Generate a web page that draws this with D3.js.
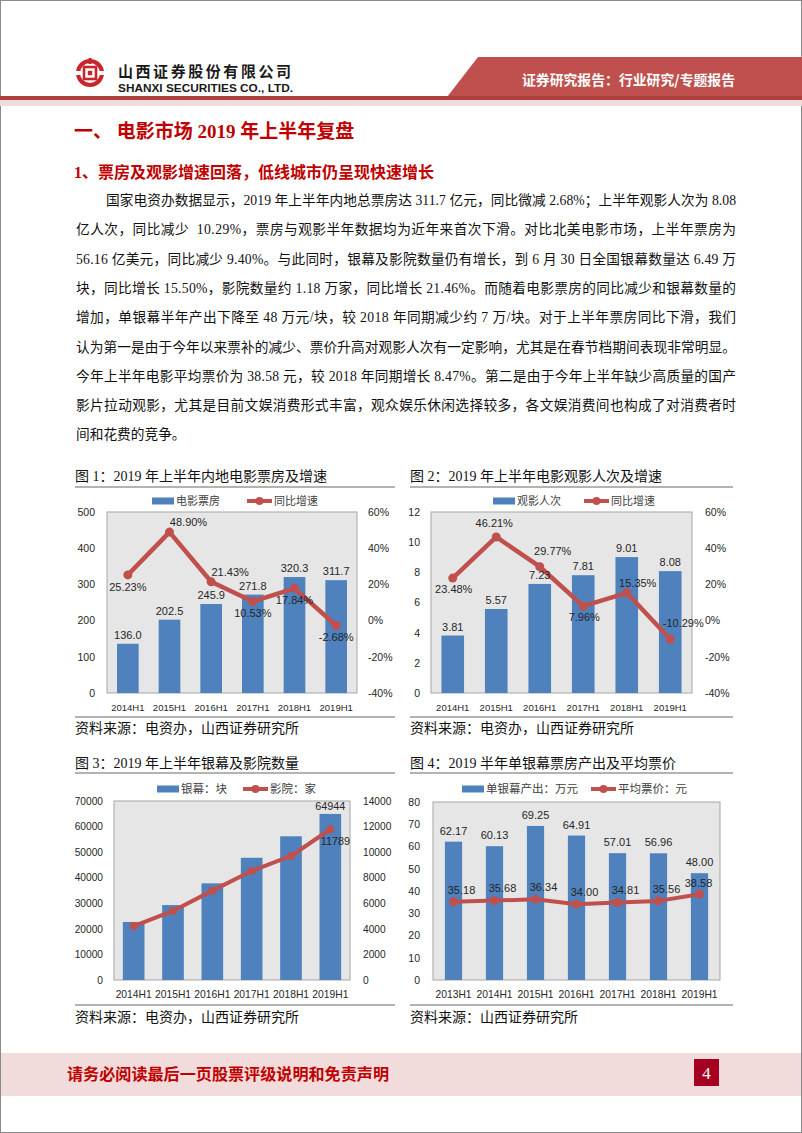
<!DOCTYPE html>
<html><head><meta charset="utf-8">
<script src="https://cdn.jsdelivr.net/npm/d3@7"></script>
<style>
html,body{margin:0;padding:0;background:#fff;}
svg{display:block;}
</style></head><body>
<svg id="page" width="802" height="1133"></svg>
<script>
// ---------------- DATA ----------------
const c1Categories = ["2014H1","2015H1","2016H1","2017H1","2018H1","2019H1"];
const c1BoxOffice = [136.0, 202.5, 245.9, 271.8, 320.3, 311.7];
const c1Growth = [25.23, 48.90, 21.43, 10.53, 17.84, -2.68];
const c1LeftTicks = [0, 100, 200, 300, 400, 500];
const c1RightTicks = [-40, -20, 0, 20, 40, 60];
const c1GrowthLabelPlace = ["below","upRight","upRight","below","below","below"];

const c2Categories = ["2014H1","2015H1","2016H1","2017H1","2018H1","2019H1"];
const c2Admissions = [3.81, 5.57, 7.23, 7.81, 9.01, 8.08];
const c2Growth = [23.48, 46.21, 29.77, 7.96, 15.35, -10.29];
const c2LeftTicks = [0, 2, 4, 6, 8, 10, 12];
const c2RightTicks = [-40, -20, 0, 20, 40, 60];
const c2GrowthLabelPlace = ["below","above","upRightHigh","below","upRight","upRightHigh"];

const c3Categories = ["2014H1","2015H1","2016H1","2017H1","2018H1","2019H1"];
const c3Screens = [22700, 29300, 37800, 47800, 56200, 64944];
const c3Cinemas = [4220, 5400, 6990, 8530, 9700, 11789];
const c3LeftTicks = [0, 10000, 20000, 30000, 40000, 50000, 60000, 70000];
const c3RightTicks = [0, 2000, 4000, 6000, 8000, 10000, 12000, 14000];
const c3ScreenLabelShow = [false, false, false, false, false, true];
const c3CinemaLabelPlace = [null, null, null, null, null, "belowRight"];

const c4Categories = ["2013H1","2014H1","2015H1","2016H1","2017H1","2018H1","2019H1"];
const c4Output = [62.17, 60.13, 69.25, 64.91, 57.01, 56.96, 48.00];
const c4Price = [35.18, 35.68, 36.34, 34.00, 34.81, 35.56, 38.58];
const c4Ticks = [0, 10, 20, 30, 40, 50, 60, 70, 80];
const c4PriceLabelPlace = ["upRight","upRight","upRight","upRight","upRight","upRight","above"];

const bodyLines = [
  "国家电资办数据显示，2019 年上半年内地总票房达 311.7 亿元，同比微减 2.68%；上半年观影人次为 8.08",
  "亿人次，同比减少  10.29%，票房与观影半年数据均为近年来首次下滑。对比北美电影市场，上半年票房为",
  "56.16 亿美元，同比减少 9.40%。与此同时，银幕及影院数量仍有增长，到 6 月 30 日全国银幕数量达 6.49 万",
  "块，同比增长 15.50%，影院数量约 1.18 万家，同比增长 21.46%。而随着电影票房的同比减少和银幕数量的",
  "增加，单银幕半年产出下降至 48 万元/块，较 2018 年同期减少约 7 万/块。对于上半年票房同比下滑，我们",
  "认为第一是由于今年以来票补的减少、票价升高对观影人次有一定影响，尤其是在春节档期间表现非常明显。",
  "今年上半年电影平均票价为 38.58 元，较 2018 年同期增长 8.47%。第二是由于今年上半年缺少高质量的国产",
  "影片拉动观影，尤其是目前文娱消费形式丰富，观众娱乐休闲选择较多，各文娱消费间也构成了对消费者时",
  "间和花费的竞争。"
];

// ---------------- STYLE ----------------
const SANS = "'Liberation Sans', Arial, 'Noto Sans CJK SC', sans-serif";
const SERIF = "'Liberation Serif', 'Times New Roman', 'Noto Sans CJK SC', serif";
const CJK = "'Noto Sans CJK SC', sans-serif";
const RED = "#C00000";
const BAR = "#4F81BD";
const LINE = "#C0504D";

const svg = d3.select("#page");

// page border
svg.append("rect").attr("x",0.5).attr("y",0.5).attr("width",801).attr("height",1132)
  .attr("fill","none").attr("stroke","#8a8a8a").attr("stroke-width",1);

// ---------------- HEADER ----------------
const hdr = svg.append("g");
const logo = hdr.append("g").attr("transform","translate(90,73)");
logo.append("circle").attr("r",12).attr("fill","none").attr("stroke","#C8262C").attr("stroke-width",4);
logo.append("rect").attr("x",-14).attr("y",-2).attr("width",28).attr("height",4).attr("fill","#fff");
logo.append("rect").attr("x",-6).attr("y",-6).attr("width",12).attr("height",12).attr("fill","none").attr("stroke","#C8262C").attr("stroke-width",2.6);
logo.append("rect").attr("x",-2.2).attr("y",-2.2).attr("width",4.4).attr("height",4.4).attr("fill","#C8262C");
logo.append("rect").attr("x",-1.5).attr("y",-15).attr("width",3).attr("height",6).attr("fill","#C8262C");
hdr.append("text").attr("x",118).attr("y",77).attr("textLength",173).attr("lengthAdjust","spacing")
  .style("font-family",CJK).style("font-weight",700).style("font-size","15px").attr("fill","#1a1a1a")
  .text("山西证券股份有限公司");
hdr.append("text").attr("x",118).attr("y",92).attr("textLength",175).attr("lengthAdjust","spacingAndGlyphs")
  .style("font-family",SANS).style("font-weight",700).style("font-size","11.5px").attr("fill","#1a1a1a")
  .text("SHANXI SECURITIES CO., LTD.");
hdr.append("polygon").attr("points","478,57 802,57 802,97 447,97").attr("fill","#C0504D");
hdr.append("rect").attr("x",0).attr("y",96).attr("width",802).attr("height",4).attr("fill","#B0413E");
hdr.append("rect").attr("x",0).attr("y",100).attr("width",802).attr("height",6).attr("fill","#F2DCDB");
hdr.append("text").attr("x",522).attr("y",85).attr("textLength",213).attr("lengthAdjust","spacingAndGlyphs")
  .style("font-family",CJK).style("font-weight",700).style("font-size","14px").attr("fill","#fff")
  .text("证券研究报告：行业研究/专题报告");

// ---------------- HEADINGS & BODY ----------------
svg.append("text").attr("x",74).attr("y",138)
  .style("font-family",SERIF).style("font-weight",700).style("font-size","19px").attr("fill",RED)
  .text("一、 电影市场 2019 年上半年复盘");
svg.append("text").attr("x",74).attr("y",178)
  .style("font-family",SERIF).style("font-weight",700).style("font-size","16px").attr("fill",RED)
  .text("1、票房及观影增速回落，低线城市仍呈现快速增长");

bodyLines.forEach((t,i)=>{
  const tx = svg.append("text")
    .attr("x", i===0 ? 106 : 76)
    .attr("y", 205 + i*29.3)
    .style("font-family",SERIF).style("font-size","13.7px").style("white-space","pre").attr("fill","#111")
    .text(t);
  if (i < bodyLines.length-1) tx.attr("textLength", i===0 ? 630 : 660).attr("lengthAdjust","spacing");
});

// ---------------- CHART HELPERS ----------------
function chartFrame(o){
  svg.append("text").attr("x",o.x).attr("y",o.titleY)
    .style("font-family",SERIF).style("font-size","14px").attr("fill","#111").text(o.title);
  svg.append("line").attr("x1",o.x).attr("x2",o.x+o.w).attr("y1",o.lineY).attr("y2",o.lineY)
    .attr("stroke","#9a9a9a").attr("stroke-width",1.5);
  svg.append("line").attr("x1",o.x).attr("x2",o.x+o.w).attr("y1",o.srcLineY).attr("y2",o.srcLineY)
    .attr("stroke","#9a9a9a").attr("stroke-width",1.5);
  svg.append("text").attr("x",o.x).attr("y",o.srcY)
    .style("font-family",SERIF).style("font-size","14px").attr("fill","#111").text(o.source);
}

const fixed = n => d => (d < 0 ? "-" : "") + Math.abs(d).toFixed(n);
const pct = d => fixed(2)(d) + "%";

function comboChart(o){
  const g = svg.append("g");
  const x = d3.scaleBand().domain(o.categories).range([o.x0,o.x1]).paddingInner(o.pad).paddingOuter(o.pad/2);
  const y = d3.scaleLinear().domain(o.yDomain).range([o.y1,o.y0]);
  const y2 = o.y2Domain ? d3.scaleLinear().domain(o.y2Domain).range([o.y1,o.y0]) : y;
  const cx = i => x(o.categories[i]) + x.bandwidth()/2;
  const barData = o.bars.map((v,i)=>({v,i}));
  const lineData = o.line.map((v,i)=>({v,i}));

  g.append("rect").attr("x",o.x0).attr("y",o.y0).attr("width",o.x1-o.x0).attr("height",o.y1-o.y0)
    .attr("fill","#E6E6E6").attr("stroke","#A6A6A6").attr("stroke-width",1);

  const styleAxis = (ax, size) => {
    ax.select(".domain").remove();
    ax.selectAll("text").style("font-family",SANS).style("font-size",size).attr("fill","#262626");
  };
  const la = g.append("g").attr("transform",`translate(${o.x0},0)`)
    .call(d3.axisLeft(y).tickValues(o.leftTicks).tickSize(0).tickPadding(o.leftGap).tickFormat(d=>String(d)));
  styleAxis(la, o.tickFont);
  if (o.y2Domain){
    const ra = g.append("g").attr("transform",`translate(${o.x1},0)`)
      .call(d3.axisRight(y2).tickValues(o.rightTicks).tickSize(0).tickPadding(o.rightGap).tickFormat(o.rightFmt));
    styleAxis(ra, o.tickFont);
  }
  const xa = g.append("g").attr("transform",`translate(0,${o.y1})`)
    .call(d3.axisBottom(x).tickSize(0).tickPadding(o.xGap));
  styleAxis(xa, o.xFont);

  // bars
  g.selectAll("rect.bar").data(barData).join("rect").attr("class","bar")
    .attr("x",d=>x(o.categories[d.i])).attr("width",x.bandwidth())
    .attr("y",d=>y(d.v)).attr("height",d=>o.y1-y(d.v)).attr("fill",BAR);

  // line
  const line = d3.line().x(d=>cx(d.i)).y(d=>y2(d.v));
  g.append("path").datum(lineData).attr("d",line).attr("fill","none")
    .attr("stroke",LINE).attr("stroke-width",o.lineWidth).attr("stroke-linejoin","round");
  g.selectAll("circle.pt").data(lineData).join("circle").attr("class","pt")
    .attr("cx",d=>cx(d.i)).attr("cy",d=>y2(d.v)).attr("r",o.markerR).attr("fill",LINE);

  // bar labels
  g.selectAll("text.bl").data(barData.filter(d=>!o.barLabelShow || o.barLabelShow[d.i])).join("text").attr("class","bl")
    .attr("x",d=>cx(d.i)).attr("y",d=>y(d.v)-o.barLabelGap)
    .attr("text-anchor","middle")
    .style("font-family",SANS).style("font-size",o.labelFont).attr("fill","#262626")
    .text(d=>o.barFmt(d.v));

  // line labels
  g.selectAll("text.ll").data(lineData.filter(d=>o.linePlace[d.i])).join("text").attr("class","ll")
    .attr("x",d=>cx(d.i) + o.placeMap[o.linePlace[d.i]][0])
    .attr("y",d=>y2(d.v) + o.placeMap[o.linePlace[d.i]][1])
    .attr("dy","0.35em").attr("text-anchor","middle")
    .style("font-family",SANS).style("font-size",o.labelFont).attr("fill","#262626")
    .text(d=>o.lineFmt(d.v));

  // legend
  const lg = g.append("g");
  lg.append("rect").attr("x",o.legend.barX).attr("y",o.legend.y-3.5).attr("width",22).attr("height",7).attr("fill",BAR);
  lg.append("text").attr("x",o.legend.barX+24).attr("y",o.legend.y).attr("dy","0.36em")
    .style("font-family",CJK).style("font-size",o.legendFont).attr("fill","#404040").text(o.legend.barName);
  lg.append("line").attr("x1",o.legend.lineX).attr("x2",o.legend.lineX+25).attr("y1",o.legend.y).attr("y2",o.legend.y)
    .attr("stroke",LINE).attr("stroke-width",4);
  lg.append("circle").attr("cx",o.legend.lineX+12.5).attr("cy",o.legend.y).attr("r",4).attr("fill",LINE);
  lg.append("text").attr("x",o.legend.lineX+27).attr("y",o.legend.y).attr("dy","0.36em")
    .style("font-family",CJK).style("font-size",o.legendFont).attr("fill","#404040").text(o.legend.lineName);
}

// ---------------- CHART 1 ----------------
chartFrame({x:75, w:320, titleY:481, lineY:487, srcLineY:717, srcY:733,
  title:"图 1：2019 年上半年内地电影票房及增速", source:"资料来源：电资办，山西证券研究所"});
comboChart({
  categories:c1Categories, bars:c1BoxOffice, line:c1Growth,
  x0:107, x1:357, y0:512, y1:693, pad:0.48,
  yDomain:[0,500], y2Domain:[-40,60], leftTicks:c1LeftTicks, rightTicks:c1RightTicks,
  rightFmt:d=>d+"%", leftGap:12, rightGap:11, xGap:11, tickFont:"10.5px", xFont:"9.5px",
  lineWidth:4.5, markerR:4.5, barLabelGap:5, labelFont:"11px", legendFont:"11px",
  barFmt:fixed(1), lineFmt:pct, linePlace:c1GrowthLabelPlace,
  placeMap:{below:[0,12], above:[0,-13], upRight:[19,-10]},
  legend:{y:501, barX:152, barName:"电影票房", lineX:247, lineName:"同比增速"}
});

// ---------------- CHART 2 ----------------
chartFrame({x:410, w:323, titleY:481, lineY:487, srcLineY:717, srcY:733,
  title:"图 2：2019 年上半年电影观影人次及增速", source:"资料来源：电资办，山西证券研究所"});
comboChart({
  categories:c2Categories, bars:c2Admissions, line:c2Growth,
  x0:431, x1:692, y0:512, y1:693, pad:0.48,
  yDomain:[0,12], y2Domain:[-40,60], leftTicks:c2LeftTicks, rightTicks:c2RightTicks,
  rightFmt:d=>d+"%", leftGap:11, rightGap:13, xGap:11, tickFont:"10.5px", xFont:"9.5px",
  lineWidth:4.5, markerR:4.5, barLabelGap:5, labelFont:"11px", legendFont:"11px",
  barFmt:fixed(2), lineFmt:pct, linePlace:c2GrowthLabelPlace,
  placeMap:{below:[1,11], above:[-2,-14], upRight:[11,-10], upRightHigh:[13,-16]},
  legend:{y:501, barX:493, barName:"观影人次", lineX:584, lineName:"同比增速"}
});

// ---------------- CHART 3 ----------------
chartFrame({x:75, w:320, titleY:768, lineY:773, srcLineY:1005, srcY:1022,
  title:"图 3：2019 年上半年银幕及影院数量", source:"资料来源：电资办，山西证券研究所"});
comboChart({
  categories:c3Categories, bars:c3Screens, line:c3Cinemas,
  x0:114, x1:350, y0:801, y1:980, pad:0.45,
  yDomain:[0,70000], y2Domain:[0,14000], leftTicks:c3LeftTicks, rightTicks:c3RightTicks,
  rightFmt:d=>String(d), leftGap:11, rightGap:13, xGap:11, tickFont:"10.2px", xFont:"10.3px",
  lineWidth:4, markerR:4, barLabelGap:4, labelFont:"10.8px", legendFont:"11.5px",
  barFmt:d=>String(d), barLabelShow:c3ScreenLabelShow,
  lineFmt:d=>String(d), linePlace:c3CinemaLabelPlace,
  placeMap:{belowRight:[5,12]},
  legend:{y:789, barX:157, barName:"银幕：块", lineX:243, lineName:"影院：家"}
});

// ---------------- CHART 4 ----------------
chartFrame({x:410, w:323, titleY:768, lineY:773, srcLineY:1005, srcY:1022,
  title:"图 4：2019 半年单银幕票房产出及平均票价", source:"资料来源：山西证券研究所"});
comboChart({
  categories:c4Categories, bars:c4Output, line:c4Price,
  x0:433, x1:720, y0:802, y1:980, pad:0.58,
  yDomain:[0,80], y2Domain:null, leftTicks:c4Ticks, rightTicks:null,
  rightFmt:null, leftGap:13, rightGap:0, xGap:11, tickFont:"10.5px", xFont:"10.3px",
  lineWidth:4, markerR:4.5, barLabelGap:7, labelFont:"11px", legendFont:"11.5px",
  barFmt:fixed(2), lineFmt:fixed(2), linePlace:c4PriceLabelPlace,
  placeMap:{upRight:[8,-12], above:[-1,-11]},
  legend:{y:789, barX:462, barName:"单银幕产出：万元", lineX:591, lineName:"平均票价：元"}
});

// ---------------- FOOTER ----------------
svg.append("rect").attr("x",1).attr("y",1053).attr("width",800).attr("height",43).attr("fill","#F2DCDB");
svg.append("text").attr("x",67).attr("y",1080).attr("textLength",322).attr("lengthAdjust","spacingAndGlyphs")
  .style("font-family",SERIF).style("font-weight",700).style("font-size","16px").attr("fill",RED)
  .text("请务必阅读最后一页股票评级说明和免责声明");
svg.append("rect").attr("x",694).attr("y",1059).attr("width",25).attr("height",27).attr("fill","#A50021");
svg.append("text").attr("x",706.5).attr("y",1079).attr("text-anchor","middle")
  .style("font-family",SERIF).style("font-size","17px").attr("fill","#fff").text("4");
</script>
</body></html>
